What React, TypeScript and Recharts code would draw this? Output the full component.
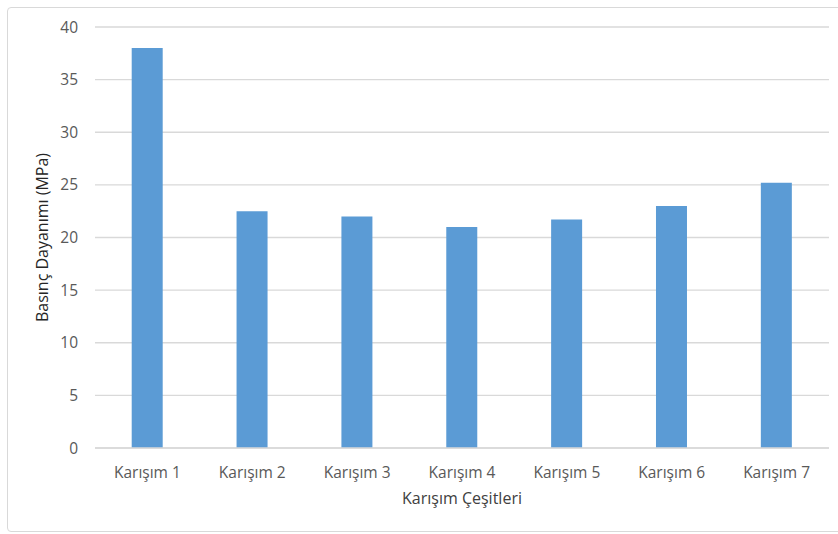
import React from "react";
import { BarChart, Bar, XAxis, YAxis, CartesianGrid, Label } from "recharts";

const categories = ["Karışım 1", "Karışım 2", "Karışım 3", "Karışım 4", "Karışım 5", "Karışım 6", "Karışım 7"];
const strengths = [38, 22.5, 22, 21, 21.7, 23, 25.2];
const yTicks = [0, 5, 10, 15, 20, 25, 30, 35, 40];

const data = categories.map((name, i) => ({ name, value: strengths[i] }));

const FONT = "'Open Sans', sans-serif";

export default function App() {
  return (
    <div style={{ position: "absolute", left: 0, top: 0, width: 838, height: 534, background: "#fff", overflow: "hidden" }}>
      <div
        style={{
          position: "absolute",
          left: 7,
          top: 7,
          width: 845,
          height: 525,
          border: "1px solid #d9d9d9",
          borderRadius: 4,
          boxSizing: "border-box",
        }}
      />
      <BarChart
        width={838}
        height={534}
        data={data}
        margin={{ top: 27, right: 9, bottom: 0, left: 0 }}
        barCategoryGap="35%"
        style={{ position: "absolute", left: 0, top: 0, fontFamily: FONT }}
      >
        <CartesianGrid vertical={false} stroke="#d9d9d9" strokeWidth={1.3} />
        <XAxis
          dataKey="name"
          height={86}
          axisLine={{ stroke: "#d9d9d9", strokeWidth: 1.3 }}
          tickLine={false}
          tickSize={0}
          tickMargin={19}
          tick={{ fill: "#595959", fontSize: 15.5, fontFamily: FONT }}
        >
          <Label
            value="Karışım Çeşitleri"
            position="insideTop"
            offset={45}
            style={{ fill: "#404040", fontSize: 16, fontFamily: FONT }}
          />
        </XAxis>
        <YAxis
          width={95}
          domain={[0, 40]}
          ticks={yTicks}
          axisLine={false}
          tickLine={false}
          tickSize={0}
          tickMargin={17}
          tick={{ fill: "#595959", fontSize: 15.5, fontFamily: FONT }}
        >
          <Label
            value="Basınç Dayanımı (MPa)"
            angle={-90}
            position="center"
            dx={-5}
            style={{ fill: "#262626", fontSize: 16, fontFamily: FONT, textAnchor: "middle" }}
          />
        </YAxis>
        <Bar dataKey="value" fill="#5b9bd5" isAnimationActive={false} />
      </BarChart>
    </div>
  );
}
